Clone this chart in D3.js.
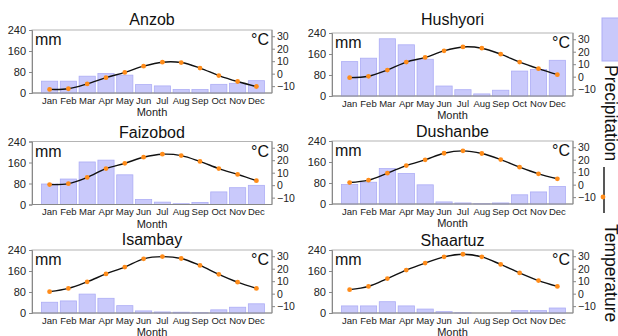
<!DOCTYPE html>
<html>
<head>
<meta charset="utf-8">
<script src="https://cdn.jsdelivr.net/npm/d3@7"></script>
<style>
  body { margin: 0; background: #fff; }
  svg { font-family: "Liberation Sans", Arial, sans-serif; display: block; }
</style>
</head>
<body>
<div id="chart"></div>
<script>
const months = ['Jan', 'Feb', 'Mar', 'Apr', 'May', 'Jun', 'Jul', 'Aug', 'Sep', 'Oct', 'Nov', 'Dec'];
const stationNames = ['Anzob', 'Hushyori', 'Faizobod', 'Dushanbe', 'Isambay', 'Shaartuz'];

// precipitation, mm
const anzobPrecip    = [45, 45, 64, 74, 68, 32, 27, 13, 13, 33, 37, 47];
const hushyoriPrecip = [131, 144, 218, 195, 140, 38, 24, 8, 22, 95, 101, 136];
const faizobodPrecip = [78, 97, 162, 169, 113, 19, 9, 3, 8, 48, 64, 73];
const dushanbePrecip = [74, 83, 135, 116, 73, 8, 4, 1, 4, 35, 46, 67];
const isambayPrecip  = [41, 46, 72, 56, 28, 8, 4, 3, 1, 12, 22, 35];
const shaartuzPrecip = [27, 27, 43, 27, 15, 5, 1, 0, 0, 9, 9, 19];

// temperature, °C
const anzobTemp    = [-12.6, -12.1, -8.2, -3.2, 1.0, 6.0, 9.2, 8.9, 4.5, -1.5, -6.3, -10.3];
const hushyoriTemp = [-0.8, 0.3, 5.3, 11.7, 15.4, 20.7, 23.8, 22.8, 18.0, 11.7, 6.4, 1.6];
const faizobodTemp = [0.5, 1.2, 6.2, 13.3, 17.5, 22.4, 24.8, 23.7, 19.0, 13.3, 8.6, 3.6];
const dushanbeTemp = [1.7, 3.6, 9.2, 15.3, 19.9, 25.2, 27.1, 25.0, 20.1, 14.0, 8.7, 4.7];
const isambayTemp  = [1.6, 4.2, 9.5, 15.8, 21.3, 27.9, 29.7, 28.2, 22.6, 15.5, 9.2, 4.2];
const shaartuzTemp = [3.2, 5.8, 12.1, 18.9, 24.5, 29.5, 31.6, 29.5, 23.4, 16.6, 10.5, 5.8];

const precipTicks = [0, 80, 160, 240];
const tempTicks = [-10, 0, 10, 20, 30];

const precipSeries = [anzobPrecip, hushyoriPrecip, faizobodPrecip, dushanbePrecip, isambayPrecip, shaartuzPrecip];
const tempSeries = [anzobTemp, hushyoriTemp, faizobodTemp, dushanbeTemp, isambayTemp, shaartuzTemp];

const W = 618, H = 336;
const barFill = '#c9c9fb', barStroke = '#adadf5', dotColor = '#ff8c1a';

// panel placement
const colLeft = [32, 332];
const colWidth = [240, 241];
const panelTop = [30, 33, 141.5, 141, 250, 250];
const titleBase = [25, 25, 138, 137, 245, 246];
const plotH = 63;

const svg = d3.select('#chart').append('svg')
  .attr('width', W)
  .attr('height', H);

svg.append('rect').attr('width', W).attr('height', H).attr('fill', '#fff');

stationNames.forEach((name, i) => {
  const col = i % 2;
  const x0 = colLeft[col], x1 = x0 + colWidth[col];
  const top = panelTop[i], bottom = top + plotH;

  const g = svg.append('g');

  const x = d3.scaleBand()
    .domain(months)
    .range([x0 + 9.5, x1 - 7.5])
    .paddingInner(0.14);

  const yP = d3.scaleLinear().domain([0, 240]).range([bottom, top]);
  const yT = d3.scaleLinear().domain([-15.5, 35]).range([bottom, top]);

  // frame
  g.append('rect')
    .attr('x', x0).attr('y', top)
    .attr('width', x1 - x0).attr('height', plotH)
    .attr('fill', 'none')
    .attr('stroke', '#b4b4b4')
    .attr('stroke-width', 1);

  // bars
  g.selectAll('.bar')
    .data(precipSeries[i])
    .enter().append('rect')
    .attr('x', (d, j) => x(months[j]))
    .attr('y', d => yP(d))
    .attr('width', x.bandwidth())
    .attr('height', d => yP(0) - yP(d))
    .attr('fill', barFill)
    .attr('stroke', barStroke)
    .attr('stroke-width', 0.8);

  // temperature line
  const line = d3.line()
    .x((d, j) => x(months[j]) + x.bandwidth() / 2)
    .y(d => yT(d))
    .curve(d3.curveCatmullRom.alpha(0.5));

  g.append('path')
    .datum(tempSeries[i])
    .attr('fill', 'none')
    .attr('stroke', '#111')
    .attr('stroke-width', 1.4)
    .attr('d', line);

  g.selectAll('.dot')
    .data(tempSeries[i])
    .enter().append('circle')
    .attr('cx', (d, j) => x(months[j]) + x.bandwidth() / 2)
    .attr('cy', d => yT(d))
    .attr('r', 2.4)
    .attr('fill', dotColor);

  // left axis
  const la = g.append('g')
    .attr('transform', `translate(${x0},0)`)
    .call(d3.axisLeft(yP).tickValues(precipTicks).tickSize(3).tickPadding(3));
  la.select('.domain').attr('stroke', '#888');
  la.selectAll('.tick line').attr('stroke', '#888');
  la.selectAll('text').attr('font-size', 11).attr('fill', '#222');

  // right axis
  const ra = g.append('g')
    .attr('transform', `translate(${x1},0)`)
    .call(d3.axisRight(yT).tickValues(tempTicks).tickSize(3).tickPadding(2));
  ra.select('.domain').attr('stroke', '#888').attr('d', `M0,${bottom}V${top}`);
  ra.selectAll('.tick line').attr('stroke', '#888');
  ra.selectAll('text').attr('font-size', 10.5).attr('fill', '#222');

  // bottom axis
  const ba = g.append('g')
    .attr('transform', `translate(0,${bottom})`)
    .call(d3.axisBottom(x).tickSize(0).tickPadding(4));
  ba.select('.domain').remove();
  ba.selectAll('text').attr('font-size', 9.5).attr('fill', '#222');

  g.append('line')
    .attr('x1', x0).attr('x2', x1)
    .attr('y1', bottom).attr('y2', bottom)
    .attr('stroke', '#888');

  g.append('text')
    .attr('x', (x0 + x1) / 2).attr('y', bottom + 23)
    .attr('text-anchor', 'middle')
    .attr('font-size', 11)
    .attr('fill', '#222')
    .text('Month');

  g.append('text')
    .attr('x', (x0 + x1) / 2).attr('y', titleBase[i])
    .attr('text-anchor', 'middle')
    .attr('font-size', 16)
    .attr('fill', '#111')
    .text(name);

  g.append('text')
    .attr('x', x0 + 3).attr('y', top + 15)
    .attr('font-size', 16)
    .attr('fill', '#111')
    .text('mm');

  g.append('text')
    .attr('x', x1 - 3).attr('y', top + 15)
    .attr('text-anchor', 'end')
    .attr('font-size', 16)
    .attr('fill', '#111')
    .text('°C');
});

// legend (rotated, clipped by the right edge)
const legend = svg.append('g');
legend.append('rect')
  .attr('x', 602).attr('y', 18)
  .attr('width', 20).attr('height', 43)
  .attr('fill', barFill)
  .attr('stroke', barStroke);

legend.append('text')
  .attr('transform', 'translate(605,65) rotate(90)')
  .attr('font-size', 17.5)
  .attr('fill', '#111')
  .text('Precipitation');

legend.append('line')
  .attr('x1', 604).attr('x2', 604)
  .attr('y1', 167).attr('y2', 213)
  .attr('stroke', '#111')
  .attr('stroke-width', 1.4);

legend.append('circle')
  .attr('cx', 603).attr('cy', 197)
  .attr('r', 2.4)
  .attr('fill', dotColor);

legend.append('text')
  .attr('transform', 'translate(605,224) rotate(90)')
  .attr('font-size', 17.5)
  .attr('fill', '#111')
  .text('Temperature');
</script>
</body>
</html>
